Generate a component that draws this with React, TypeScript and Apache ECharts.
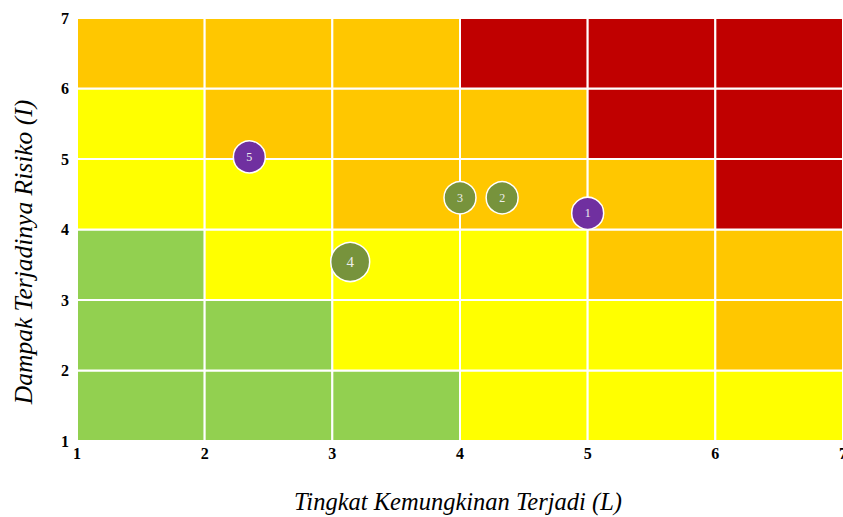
import React, { useEffect, useRef } from "react";
import * as echarts from "echarts";

// Risk-level matrix: rows from impact 1-2 (bottom) to 6-7 (top), columns likelihood 1-2 .. 6-7
// 0 = low (green), 1 = medium (yellow), 2 = high (orange), 3 = extreme (red)
const matrixRows: number[][] = [
  [0, 0, 0, 1, 1, 1],
  [0, 0, 1, 1, 1, 2],
  [0, 1, 1, 1, 2, 2],
  [1, 1, 2, 2, 2, 3],
  [1, 2, 2, 2, 3, 3],
  [2, 2, 2, 3, 3, 3],
];
const levelColors = ["#92D050", "#FFFF00", "#FFC700", "#C00000"];

const riskIds = ["1", "2", "3", "4", "5"];
const likelihood = [5.0, 4.33, 4.0, 3.14, 2.35];
const impact = [4.23, 4.45, 4.45, 3.54, 5.03];
const bubbleSize = [32, 32, 32, 39, 32];
const riskGroup = [0, 1, 1, 1, 0];
const groupColors = ["#7030A0", "#77933C"];

const axisMin = 1;
const axisMax = 7;

const xTitle = "Tingkat Kemungkinan Terjadi (L)";
const yTitle = "Dampak Terjadinya Risiko (I)";

export default function App() {
  const ref = useRef<HTMLDivElement>(null);
  useEffect(() => {
    if (!ref.current) return;
    const chart = echarts.init(ref.current, null, { renderer: "svg" });
    const cells: number[][] = [];
    matrixRows.forEach((row, r) => {
      row.forEach((lvl, c) => {
        cells.push([axisMin + c, axisMin + r, lvl]);
      });
    });
    const serif = "'Liberation Serif', 'Times New Roman', serif";
    chart.setOption({
      animation: false,
      backgroundColor: "#ffffff",
      grid: {
        left: 77,
        top: 18,
        right: 0,
        bottom: 76,
        containLabel: false,
        outerBoundsMode: "none",
      },
      xAxis: {
        type: "value",
        min: axisMin,
        max: axisMax,
        interval: 1,
        axisLine: { show: false },
        axisTick: { show: false },
        splitLine: { show: false },
        axisLabel: {
          color: "#000",
          fontWeight: "bold",
          fontSize: 16,
          fontFamily: serif,
          margin: 4,
          hideOverlap: false,
        },
      },
      yAxis: {
        type: "value",
        min: axisMin,
        max: axisMax,
        interval: 1,
        axisLine: { show: false },
        axisTick: { show: false },
        splitLine: { show: false },
        axisLabel: {
          color: "#000",
          fontWeight: "bold",
          fontSize: 16,
          fontFamily: serif,
          margin: 8,
          padding: [0, 0, 10, 0],
        },
      },
      graphic: [
        {
          type: "text",
          x: 458,
          y: 501,
          style: {
            text: xTitle,
            font: `italic 24.5px ${serif}`,
            fill: "#000",
            align: "center",
            verticalAlign: "middle",
          },
        },
        {
          type: "text",
          x: 23,
          y: 252,
          rotation: Math.PI / 2,
          style: {
            text: yTitle,
            font: `italic 25.5px ${serif}`,
            fill: "#000",
            align: "center",
            verticalAlign: "middle",
          },
        },
      ],
      series: [
        {
          type: "custom",
          silent: true,
          data: cells,
          renderItem: (params: any, api: any) => {
            const x0 = api.value(0);
            const y0 = api.value(1);
            const lvl = api.value(2);
            const p1 = api.coord([x0, y0 + 1]);
            const p2 = api.coord([x0 + 1, y0]);
            return {
              type: "rect",
              shape: { x: p1[0], y: p1[1], width: p2[0] - p1[0], height: p2[1] - p1[1] },
              style: { fill: levelColors[lvl], stroke: "#ffffff", lineWidth: 2 },
            };
          },
          z: 1,
        },
        {
          type: "scatter",
          z: 5,
          data: riskIds.map((id, i) => ({
            value: [likelihood[i], impact[i]],
            name: id,
            symbolSize: bubbleSize[i],
            itemStyle: {
              color: groupColors[riskGroup[i]],
              borderColor: "#ffffff",
              borderWidth: 1.5,
              opacity: 1,
            },
            label: { fontSize: i === 3 ? 15 : 12 },
          })),
          itemStyle: { opacity: 1 },
          label: {
            show: true,
            position: "inside",
            formatter: (p: any) => p.name,
            color: "#eeeeee",
            fontFamily: serif,
          },
        },
      ],
    });
    return () => chart.dispose();
  }, []);
  return (
    <div
      ref={ref}
      style={{ position: "absolute", left: 0, top: 0, width: 843, height: 517 }}
    />
  );
}
